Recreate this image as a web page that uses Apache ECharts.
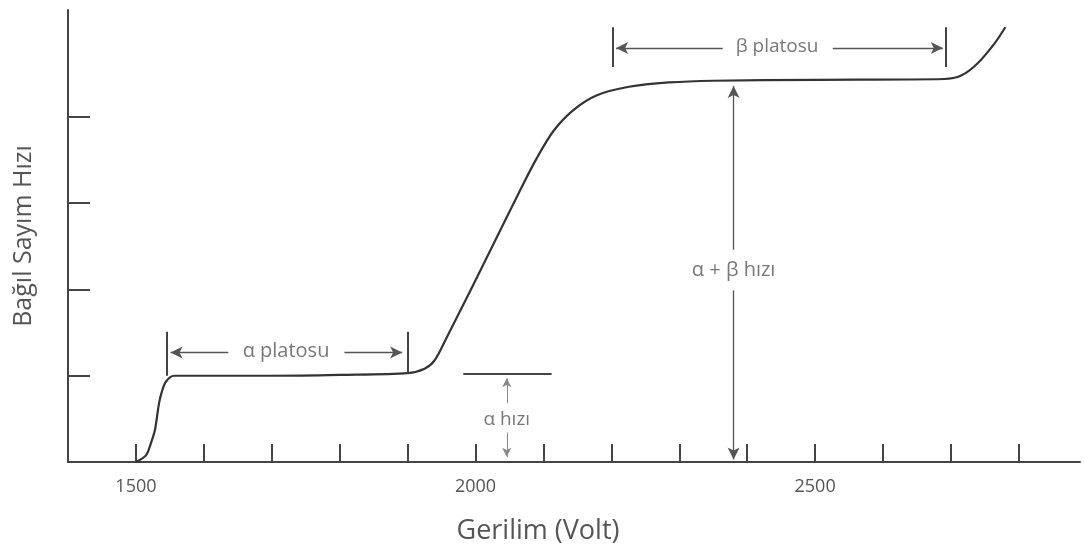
<!DOCTYPE html>
<html>
<head>
<meta charset="utf-8">
<script src="https://cdn.jsdelivr.net/npm/echarts@6/dist/echarts.min.js"></script>
<style>
  html, body { margin: 0; padding: 0; background: #fff; }
  #chart { width: 1084px; height: 546px; }
</style>
</head>
<body>
<div id="chart"></div>
<script>
// counting curve (voltage, relative rate)
var curveVolt = [1500, 1515, 1523, 1528, 1534, 1538, 1544, 1556, 1600, 1700, 1800, 1900, 1925, 1940, 1958, 1992, 2031, 2065, 2090, 2115, 2144, 2178, 2226, 2285, 2350, 2500, 2690, 2715, 2739, 2764, 2780]
var curveRate = [0, 0.08, 0.24, 0.37, 0.68, 0.81, 0.93, 1.0, 1.0, 1.0, 1.01, 1.03, 1.08, 1.18, 1.45, 1.98, 2.60, 3.14, 3.52, 3.84, 4.08, 4.25, 4.35, 4.40, 4.42, 4.43, 4.44, 4.48, 4.62, 4.85, 5.04]

var xTicks = [1500, 1600, 1700, 1800, 1900, 2000, 2100, 2200, 2300, 2400, 2500, 2600, 2700, 2800]
var xLabels = [1500, 2000, 2500]
var yTicks = [1, 2, 3, 4]

// plain segments: plateau limits and alpha level
var barLines = [
  [[1545, 1.0], [1545, 1.51]],
  [[1900, 1.03], [1900, 1.51]],
  [[2202, 4.58], [2202, 5.04]],
  [[2693, 4.58], [2693, 5.04]],
  [[1982, 1.02], [2112, 1.02]]
]
// arrows: from -> to (head at "to")
var arrowLines = [
  [[1636, 1.27], [1551, 1.27]],
  [[1807, 1.27], [1892, 1.27]],
  [[2364, 4.80], [2207, 4.80]],
  [[2526, 4.80], [2688, 4.80]],
  [[2380, 2.46], [2380, 4.36]],
  [[2380, 1.99], [2380, 0.03]]
]
var smallArrows = [
  [[2046, 0.68], [2046, 0.97]],
  [[2046, 0.34], [2046, 0.06]]
]
var notes = [
  ['α platosu', 1721, 1.28, 20],
  ['β platosu', 2444, 4.81, 19],
  ['α + β hızı', 2380, 2.22, 20],
  ['α hızı', 2046, 0.49, 19]
]

var chart = echarts.init(document.getElementById('chart'))
var font = 'Open Sans'

function toMark(list) {
  return list.map(function (s) {
    return [{ coord: s[0] }, { coord: s[1] }]
  })
}

chart.setOption({
  animation: false,
  textStyle: { fontFamily: font },
  grid: { left: 68, right: 4, top: 10, bottom: 84, containLabel: false, outerBoundsMode: 'none' },
  xAxis: {
    type: 'value',
    min: 1400,
    max: 2890,
    name: 'Gerilim (Volt)',
    nameLocation: 'middle',
    nameGap: 56,
    nameTextStyle: { fontSize: 27, color: '#555', fontFamily: font, padding: [0, 72, 0, 0] },
    axisLine: { lineStyle: { color: '#444', width: 2 } },
    axisTick: { inside: true, length: 18, customValues: xTicks, lineStyle: { color: '#444', width: 2 } },
    axisLabel: {
      customValues: xLabels, fontSize: 18, color: '#555', margin: 16, fontFamily: font,
      formatter: function (v) { return String(v) }
    },
    splitLine: { show: false }
  },
  yAxis: {
    type: 'value',
    min: 0,
    max: 5.24,
    name: 'Bağıl Sayım Hızı',
    nameLocation: 'middle',
    nameGap: 32,
    nameTextStyle: { fontSize: 25, color: '#555', fontFamily: font },
    axisLine: { show: true, lineStyle: { color: '#444', width: 2 } },
    axisTick: { show: true, inside: true, length: 22, customValues: yTicks, lineStyle: { color: '#444', width: 2 } },
    axisLabel: { show: false },
    splitLine: { show: false }
  },
  series: [
    {
      name: 'curve',
      type: 'line',
      data: curveVolt.map(function (v, i) { return [v, curveRate[i]] }),
      smooth: 0.3,
      showSymbol: false,
      lineStyle: { color: '#333', width: 2.2 }
    },
    {
      name: 'bars',
      type: 'line',
      data: [],
      markLine: {
        silent: true,
        symbol: ['none', 'none'],
        label: { show: false },
        lineStyle: { color: '#444', width: 2, type: 'solid' },
        data: toMark(barLines)
      }
    },
    {
      name: 'arrows',
      type: 'line',
      data: [],
      markLine: {
        silent: true,
        symbol: ['none', 'arrow'],
        symbolSize: [9, 12],
        label: { show: false },
        lineStyle: { color: '#555', width: 1.3, type: 'solid' },
        data: toMark(arrowLines)
      }
    },
    {
      name: 'smallArrows',
      type: 'line',
      data: [],
      markLine: {
        silent: true,
        symbol: ['none', 'arrow'],
        symbolSize: [7, 9],
        label: { show: false },
        lineStyle: { color: '#888', width: 1, type: 'solid' },
        data: toMark(smallArrows)
      }
    },
    {
      name: 'notes',
      type: 'scatter',
      symbolSize: 1,
      itemStyle: { color: 'rgba(0,0,0,0)' },
      data: notes.map(function (n) {
        return { name: n[0], value: [n[1], n[2]], label: { fontSize: n[3] } }
      }),
      label: {
        show: true,
        position: 'inside',
        formatter: '{b}',
        color: '#555',
        fontFamily: font
      }
    }
  ]
})
</script>
</body>
</html>
